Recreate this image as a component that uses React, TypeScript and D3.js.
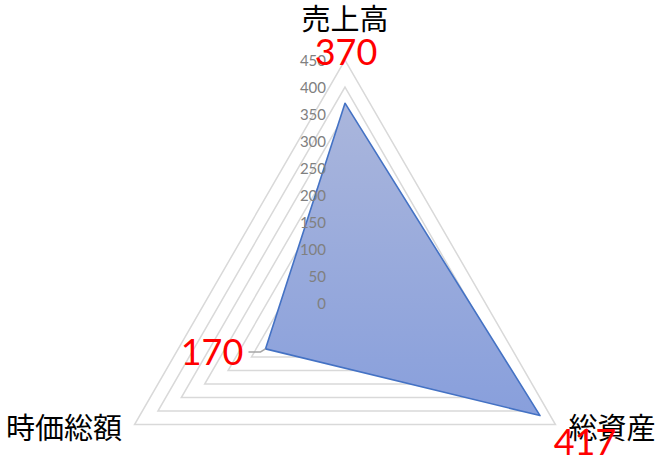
import { useMemo } from "react";
import * as d3 from "d3";

const categories = ["売上高", "総資産", "時価総額"];
const values = [370, 417, 170];
const ticks = [0, 50, 100, 150, 200, 250, 300, 350, 400, 450];

const W = 669;
const H = 459;
const cx = 345;
const cy = 303;
const R = 243;
const jpFont = "'Noto Sans CJK JP', sans-serif";
const numFont = "Lato, 'Noto Sans', sans-serif";

export default function App() {
  const r = useMemo(() => d3.scaleLinear().domain([0, 450]).range([0, R]), []);
  const angle = (i: number) => (i * 2 * Math.PI) / categories.length;
  const pt = (i: number, v: number): [number, number] => [
    cx + r(v) * Math.sin(angle(i)),
    cy - r(v) * Math.cos(angle(i)),
  ];

  const line = d3.line<[number, number]>().curve(d3.curveLinearClosed);
  const dataPts = values.map((v, i) => pt(i, v));

  // leader line for the lower-left value
  const p2 = dataPts[2];

  return (
    <svg
      width={W}
      height={H}
      style={{ position: "absolute", left: 0, top: 0, background: "#fff" }}
    >
      <defs>
        <linearGradient id="fillGrad" x1="0" y1="0" x2="0" y2="1">
          <stop offset="0%" stopColor="#aab6dc" />
          <stop offset="100%" stopColor="#889fdc" />
        </linearGradient>
      </defs>

      {ticks.slice(1).map((t) => (
        <path
          key={t}
          d={line(categories.map((_, i) => pt(i, t))) || ""}
          fill="none"
          stroke="#d9d9d9"
          strokeWidth={1.5}
        />
      ))}

      <path
        d={line(dataPts) || ""}
        fill="url(#fillGrad)"
        stroke="#4472c4"
        strokeWidth={1.6}
        strokeLinejoin="round"
      />

      {ticks.map((t) => (
        <text
          key={t}
          x={cx - 19}
          y={cy - r(t)}
          textAnchor="end"
          dominantBaseline="central"
          fontSize={15}
          fill="#808080"
          fontFamily={numFont}
        >
          {t}
        </text>
      ))}

      <path
        d={`M${p2[0] - 17},${p2[1] + 3} L${p2[0] - 5},${p2[1] + 3} L${p2[0]},${p2[1]}`}
        fill="none"
        stroke="#a6a6a6"
        strokeWidth={1.5}
      />

      <text x={cx} y={30} textAnchor="middle" fontSize={29} fill="#000" fontFamily={jpFont}>
        {categories[0]}
      </text>
      <text x={612} y={439} textAnchor="middle" fontSize={29} fill="#000" fontFamily={jpFont}>
        {categories[1]}
      </text>
      <text x={64} y={439} textAnchor="middle" fontSize={29} fill="#000" fontFamily={jpFont}>
        {categories[2]}
      </text>

      <text x={346} y={65} textAnchor="middle" fontSize={36} fill="#ff0000" fontFamily={numFont}>
        {values[0]}
      </text>
      <text x={585} y={455} textAnchor="middle" fontSize={36} fill="#ff0000" fontFamily={numFont}>
        {values[1]}
      </text>
      <text x={212} y={365} textAnchor="middle" fontSize={36} fill="#ff0000" fontFamily={numFont}>
        {values[2]}
      </text>
    </svg>
  );
}
